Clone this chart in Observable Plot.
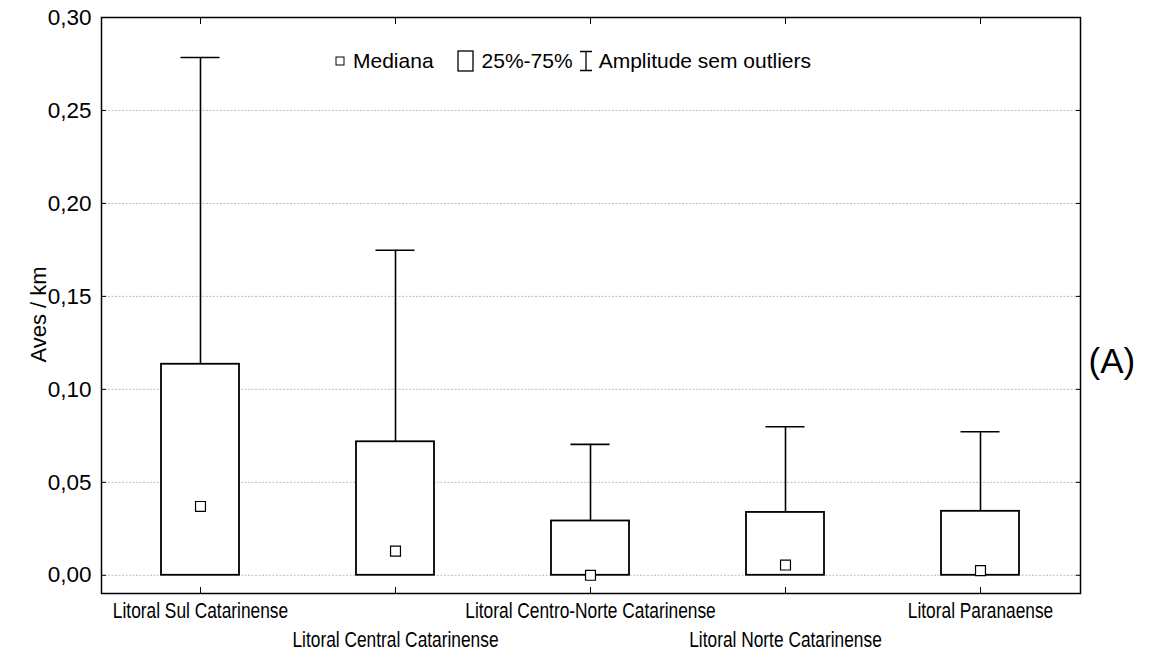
<!DOCTYPE html>
<html>
<head>
<meta charset="utf-8">
<script src="https://cdn.jsdelivr.net/npm/d3@7"></script>
<script src="https://cdn.jsdelivr.net/npm/@observablehq/plot@0.6"></script>
<style>
  html, body { margin: 0; padding: 0; background: #fff; }
  #wrap { position: relative; width: 1153px; height: 661px; font-family: "Liberation Sans", Arial, sans-serif; }
  #legend { position: absolute; left: 335px; top: 49px; display: flex; align-items: center; font-size: 21px; color: #000; white-space: nowrap; }
  #legend svg { display: block; }
</style>
</head>
<body>
<div id="wrap">
  <div id="chart"></div>
  <div id="legend">
    <svg width="10" height="10" style="margin-right:8px"><rect x="1" y="1" width="8" height="8" fill="#fff" stroke="#000" stroke-width="1"/></svg>
    <span style="margin-right:23px">Mediana</span>
    <svg width="18" height="22" style="margin-right:7px"><rect x="1" y="1" width="15" height="20" fill="#fff" stroke="#000" stroke-width="1.3"/></svg>
    <span style="margin-right:6px">25%-75%</span>
    <svg width="14" height="22" style="margin-right:6px"><path d="M1,1.5H13M7,1.5V20.5M1,20.5H13" fill="none" stroke="#000" stroke-width="1.3"/></svg>
    <span>Amplitude sem outliers</span>
  </div>
</div>
<script>
// Bird density (birds per km) by coastal sector
const regions = [
  "Litoral Sul Catarinense",
  "Litoral Central Catarinense",
  "Litoral Centro-Norte Catarinense",
  "Litoral Norte Catarinense",
  "Litoral Paranaense"
];
const whiskerLow = [0, 0, 0, 0, 0];
const q25 = [0, 0, 0, 0, 0];
const medians = [0.037, 0.013, 0.0, 0.0055, 0.0025];
const q75 = [0.1135, 0.0718, 0.0292, 0.0338, 0.0344];
const whiskerHigh = [0.2785, 0.1748, 0.0704, 0.0799, 0.0772];
const yTicks = [0, 0.05, 0.10, 0.15, 0.20, 0.25, 0.30];

const rows = regions.map((region, i) => ({
  region,
  lo: whiskerLow[i],
  q1: q25[i],
  med: medians[i],
  q3: q75[i],
  hi: whiskerHigh[i],
  row: i % 2
}));

const comma = d => d.toFixed(2).replace(".", ",");
const blank = () => "";

const chart = Plot.plot({
  width: 1153,
  height: 661,
  marginLeft: 101,
  marginRight: 73,
  marginTop: 17,
  marginBottom: 68,
  style: { fontFamily: "'Liberation Sans', Arial, sans-serif", fontSize: "21px", color: "#000", background: "#fff" },
  x: { type: "band", domain: regions, paddingInner: 0.6, paddingOuter: 0.3 },
  y: { domain: [-0.0098, 0.30] },
  marks: [
    Plot.gridY(yTicks.slice(0, -1), { stroke: "#bdbdbd", strokeOpacity: 1, strokeDasharray: "2,1.5" }),
    // whiskers
    Plot.ruleX(rows, { x: "region", y1: "q3", y2: "hi", stroke: "#000", strokeWidth: 1.6 }),
    Plot.ruleX(rows, { x: "region", y1: "lo", y2: "q1", stroke: "#000", strokeWidth: 1.6 }),
    Plot.tickY(rows, { x: "region", y: "hi", insetLeft: 19.5, insetRight: 19.5, stroke: "#000", strokeWidth: 1.6 }),
    // interquartile boxes
    Plot.barY(rows, { x: "region", y1: "q1", y2: "q3", fill: "#fff", stroke: "#000", strokeWidth: 1.8 }),
    // medians
    Plot.dot(rows, { x: "region", y: "med", symbol: "square", r: 5.6, fill: "#fff", stroke: "#000", strokeWidth: 1.2 }),
    // y tick labels and inward ticks on both sides
    Plot.axisY(yTicks, { anchor: "left", tickSize: 0, tickPadding: 10, tickFormat: comma, label: null, fontSize: 22.5 }),
    Plot.axisY(yTicks, { anchor: "left", tickSize: 5, dx: 5, tickFormat: blank, label: null }),
    Plot.axisY(yTicks, { anchor: "right", tickSize: 5, dx: -5, tickFormat: blank, label: null }),
    // inward category ticks on top and bottom
    Plot.axisX({ anchor: "bottom", tickSize: 6, dy: -6, tickFormat: blank, label: null }),
    Plot.axisX({ anchor: "top", tickSize: 6, dy: 6, tickFormat: blank, label: null }),
    // staggered category labels
    Plot.text(rows.filter(d => d.row === 0), { x: "region", text: "region", frameAnchor: "bottom", dy: 17, lineAnchor: "middle", fontSize: 22.5, className: "cat-label" }),
    Plot.text(rows.filter(d => d.row === 1), { x: "region", text: "region", frameAnchor: "bottom", dy: 46, lineAnchor: "middle", fontSize: 22.5, className: "cat-label" }),
    // axis title and panel letter
    Plot.text(["Aves / km"], { text: d => d, frameAnchor: "left", textAnchor: "middle", rotate: -90, dx: -63, dy: 9, fontSize: 22 }),
    Plot.text(["(A)"], { text: d => d, frameAnchor: "right", dx: 8, dy: 56, textAnchor: "start", fontSize: 35 }),
    Plot.frame({ stroke: "#000", strokeWidth: 1.5 })
  ]
});

document.getElementById("chart").append(chart);

// Category labels are set in a condensed face: squeeze the glyphs horizontally.
chart.querySelectorAll(".cat-label text").forEach(t => {
  const w = t.getComputedTextLength();
  t.setAttribute("textLength", (w * 0.77).toFixed(1));
  t.setAttribute("lengthAdjust", "spacingAndGlyphs");
});
</script>
</body>
</html>
